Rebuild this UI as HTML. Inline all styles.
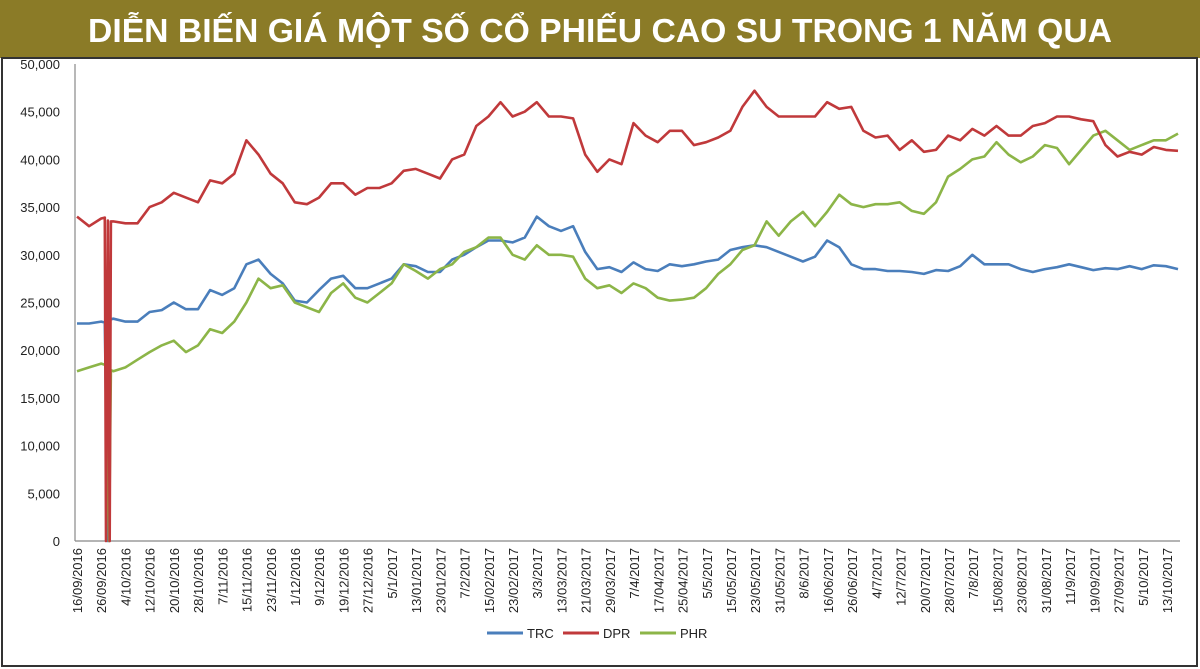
<!DOCTYPE html>
<html><head><meta charset="utf-8"><style>
body{margin:0;width:1200px;height:669px;overflow:hidden;background:#fff;font-family:"Liberation Sans",sans-serif}
svg{display:block}
</style></head><body>
<svg id="chart" width="1200" height="669" xmlns="http://www.w3.org/2000/svg">
<rect x="0" y="0" width="1200" height="58" fill="#8b7b27"/>
<text x="88" y="42" textLength="1024" lengthAdjust="spacingAndGlyphs" fill="#fff" font-family="'Liberation Sans',sans-serif" font-weight="bold" font-size="33">DIỄN BIẾN GIÁ MỘT SỐ CỔ PHIẾU CAO SU TRONG 1 NĂM QUA</text>
<rect x="2" y="58" width="1195" height="608" fill="none" stroke="#333" stroke-width="2"/>
<g id="yaxis"></g>
<g id="xaxis"></g>
<g id="series"></g>
<g id="legend"></g>
</svg>
<script>
const yTicks=[0,5000,10000,15000,20000,25000,30000,35000,40000,45000,50000];
const dateLabels=["16/09/2016","26/09/2016","4/10/2016","12/10/2016","20/10/2016","28/10/2016","7/11/2016","15/11/2016","23/11/2016","1/12/2016","9/12/2016","19/12/2016","27/12/2016","5/1/2017","13/01/2017","23/01/2017","7/2/2017","15/02/2017","23/02/2017","3/3/2017","13/03/2017","21/03/2017","29/03/2017","7/4/2017","17/04/2017","25/04/2017","5/5/2017","15/05/2017","23/05/2017","31/05/2017","8/6/2017","16/06/2017","26/06/2017","4/7/2017","12/7/2017","20/07/2017","28/07/2017","7/8/2017","15/08/2017","23/08/2017","31/08/2017","11/9/2017","19/09/2017","27/09/2017","5/10/2017","13/10/2017"];
const trc=[22.8,22.8,23.0,23.3,23.0,23.0,24,24.2,25,24.3,24.3,26.3,25.8,26.5,29,29.5,28,27,25.2,25,26.3,27.5,27.8,26.5,26.5,27,27.5,29,28.8,28.2,28.2,29.5,30,30.8,31.5,31.5,31.3,31.8,34,33,32.5,33,30.3,28.5,28.7,28.2,29.2,28.5,28.3,29,28.8,29,29.3,29.5,30.5,30.8,31,30.8,30.3,29.8,29.3,29.8,31.5,30.8,29,28.5,28.5,28.3,28.3,28.2,28,28.4,28.3,28.8,30,29,29,29,28.5,28.2,28.5,28.7,29,28.7,28.4,28.6,28.5,28.8,28.5,28.9,28.8,28.5];
const dpr=[34.0,33.0,33.8,33.5,33.3,33.3,35,35.5,36.5,36,35.5,37.8,37.5,38.5,42,40.5,38.5,37.5,35.5,35.3,36,37.5,37.5,36.3,37,37,37.5,38.8,39,38.5,38,40,40.5,43.5,44.5,46,44.5,45,46,44.5,44.5,44.3,40.5,38.7,40,39.5,43.8,42.5,41.8,43,43,41.5,41.8,42.3,43,45.5,47.2,45.5,44.5,44.5,44.5,44.5,46,45.3,45.5,43,42.3,42.5,41,42,40.8,41,42.5,42,43.2,42.5,43.5,42.5,42.5,43.5,43.8,44.5,44.5,44.2,44,41.5,40.3,40.8,40.5,41.3,41,40.9];
const phr=[17.8,18.2,18.6,17.8,18.2,19,19.8,20.5,21,19.8,20.5,22.2,21.8,23,25,27.5,26.5,26.8,25,24.5,24,26,27,25.5,25,26,27,29,28.3,27.5,28.5,29,30.3,30.8,31.8,31.8,30,29.5,31,30,30,29.8,27.5,26.5,26.8,26,27,26.5,25.5,25.2,25.3,25.5,26.5,28,29,30.5,31,33.5,32,33.5,34.5,33,34.5,36.3,35.3,35,35.3,35.3,35.5,34.6,34.3,35.5,38.2,39,40,40.3,41.8,40.5,39.7,40.3,41.5,41.2,39.5,41,42.5,43,42,41,41.5,42,42,42.7];
// data glitch (zero prints) around 26/09/2016: [index position, value]
const trcGlitch=[[2.3,22.9],[2.55,0],[2.65,23.2]];
const dprGlitch=[[2.3,33.9],[2.4,0],[2.55,33.6],[2.7,0],[2.8,33.5]];
const phrGlitch=[[2.5,18.4],[2.65,0],[2.8,17.9]];

const NS="http://www.w3.org/2000/svg";
const X0=77,X1=1178,Y0=541,Y1=64,YMAX=50000;
const N=trc.length;
const xPos=i=>X0+i*(X1-X0)/(N-1);
const yPos=v=>Y0-(v/YMAX)*(Y0-Y1);
function mk(tag,attrs,parent){const e=document.createElementNS(NS,tag);for(const k in attrs)e.setAttribute(k,attrs[k]);parent.appendChild(e);return e;}
const ya=document.getElementById('yaxis'),xa=document.getElementById('xaxis'),sg=document.getElementById('series'),lg=document.getElementById('legend');
let l=mk('line',{x1:75,y1:Y1,x2:75,y2:Y0,stroke:'#888','stroke-width':1.2},ya);


yTicks.forEach(v=>{const t=mk('text',{x:60,y:yPos(v)+5,'text-anchor':'end','font-size':13,fill:'#222'},ya);t.textContent=v.toLocaleString('en-US');

});
l=mk('line',{x1:75,y1:Y0,x2:X1+2,y2:Y0,stroke:'#888','stroke-width':1.2},xa);


const lstep=(X1-X0-11)/(dateLabels.length-1);
dateLabels.forEach((d,i)=>{const x=X0+i*lstep+5;const t=mk('text',{x:0,y:0,transform:`translate(${x},548) rotate(-90)`,'text-anchor':'end','font-size':13,fill:'#222'},xa);t.textContent=d;

});
function draw(vals,glitch,color,name){
 const pts=vals.map((v,i)=>[i,v*1000]);
 glitch.forEach(g=>pts.push([g[0],g[1]*1000]));
 pts.sort((a,b)=>a[0]-b[0]);
 const p=mk('polyline',{points:pts.map(q=>xPos(q[0]).toFixed(1)+','+yPos(q[1]).toFixed(1)).join(' '),fill:'none',stroke:color,'stroke-width':2.6,'stroke-linejoin':'round'},sg);
 
 
}
draw(trc,trcGlitch,'#4a7ebb','trc-line');
draw(phr,phrGlitch,'#8cb548','phr-line');
draw(dpr,dprGlitch,'#c0393b','dpr-line');
const leg=[['TRC','#4a7ebb',487],['DPR','#c0393b',563],['PHR','#8cb548',640]];
leg.forEach(e=>{const g=mk('g',{},lg);


mk('line',{x1:e[2],y1:633,x2:e[2]+36,y2:633,stroke:e[1],'stroke-width':3},g);
const t=mk('text',{x:e[2]+40,y:638,'font-size':13,fill:'#222'},g);t.textContent=e[0];});
</script>
</body></html>
